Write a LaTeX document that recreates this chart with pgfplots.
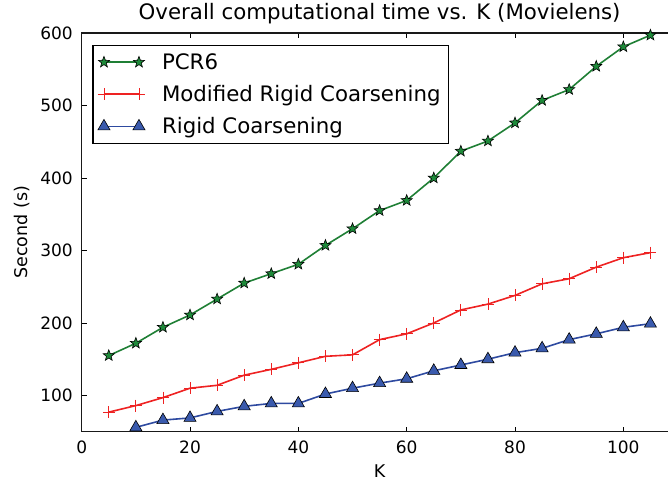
\documentclass[border=0pt]{standalone}
\usepackage{fontspec}
\setmainfont{DejaVu Sans}
\usepackage{pgfplots}
\pgfplotsset{compat=1.18}
\definecolor{pgreen}{HTML}{1E8A3A}
\definecolor{pgreenline}{HTML}{1F7F35}
\definecolor{pred}{HTML}{EE2222}
\definecolor{pblue}{HTML}{3A5AAD}
\definecolor{pblueline}{HTML}{2E4AA0}
\pgfdeclareplotmark{fstar}{%
  \pgfpathmoveto{\pgfpointpolar{90}{\pgfplotmarksize}}%
  \pgfpathlineto{\pgfpointpolar{126}{0.42\pgfplotmarksize}}%
  \pgfpathlineto{\pgfpointpolar{162}{\pgfplotmarksize}}%
  \pgfpathlineto{\pgfpointpolar{198}{0.42\pgfplotmarksize}}%
  \pgfpathlineto{\pgfpointpolar{234}{\pgfplotmarksize}}%
  \pgfpathlineto{\pgfpointpolar{270}{0.42\pgfplotmarksize}}%
  \pgfpathlineto{\pgfpointpolar{306}{\pgfplotmarksize}}%
  \pgfpathlineto{\pgfpointpolar{342}{0.42\pgfplotmarksize}}%
  \pgfpathlineto{\pgfpointpolar{18}{\pgfplotmarksize}}%
  \pgfpathlineto{\pgfpointpolar{54}{0.42\pgfplotmarksize}}%
  \pgfpathclose
  \pgfusepathqfillstroke}
\begin{document}
\begin{tikzpicture}
\begin{axis}[
  scale only axis,
  width=595.8pt, height=398.7pt,
  xmin=0, xmax=110, ymin=50, ymax=600,
  xtick={0,20,40,60,80,100,120},
  ytick={100,200,300,400,500,600},
  /pgf/number format/assume math mode=true,
  ticklabel style={font=\fontsize{17}{20}\selectfont, inner sep=0pt},
  yticklabel style={xshift=-8.7pt},
  xticklabel style={yshift=-8.5pt},
  major tick length=5pt,
  every tick/.style={black, line width=0.8pt},
  axis line style={black!90, line width=1.1pt},
  tick align=inside,
  title={Overall computational time vs. K (Movielens)},
  title style={at={(axis description cs:0.5,1)}, anchor=base, yshift=7pt, font=\fontsize{21.3}{25}\selectfont, inner sep=0pt},
  xlabel={K},
  xlabel style={at={(axis description cs:0.5,0)}, anchor=base, yshift=-46.3pt, font=\fontsize{17.5}{21}\selectfont, inner sep=0pt},
  ylabel={Second (s)},
  ylabel style={at={(axis description cs:-0.101,0.5)}, anchor=center, rotate=0, font=\fontsize{17.5}{21}\selectfont, inner sep=0pt},
  legend cell align=left,
  legend style={at={(axis description cs:0.0178,0.97)}, anchor=north west, draw=black, line width=1.2pt, font=\fontsize{21.3}{25}\selectfont, inner sep=5pt, row sep=8.5pt, column sep=14pt, nodes={inner sep=3pt}},
  legend image code/.code={\draw[#1] plot coordinates {(0pt,0pt) (35pt,0pt)};},
]
\coordinate (ll) at (rel axis cs:0,0);
\coordinate (ur) at (rel axis cs:1,1);
\addplot[pgreenline, line width=1.6pt, mark=fstar, mark size=5.8pt, mark options={solid, draw=black, fill=pgreen, line width=0.6pt}] coordinates {
(5,155) (10,172) (15,194) (20,211) (25,233) (30,255) (35,268) (40,281) (45,307) (50,330) (55,355) (60,369) (65,400) (70,437) (75,451) (80,476) (85,507) (90,522) (95,554) (100,581) (105,597)};
\addlegendentry{PCR6}
\addplot[pred, line width=1.6pt, mark=+, mark size=6pt, mark options={solid, line width=0.8pt}] coordinates {
(5,77) (10,86) (15,97) (20,110) (25,114) (30,128) (35,136) (40,145) (45,154) (50,156) (55,177) (60,185) (65,200) (70,218) (75,226) (80,238) (85,254) (90,261) (95,277) (100,290) (105,297)};
\addlegendentry{Modified Rigid Coarsening}
\addplot[pblueline, line width=1.6pt, mark=triangle*, mark size=7pt, mark options={solid, draw=black, fill=pblue, line width=0.6pt}] coordinates {
(10,56) (15,66) (20,69) (25,78) (30,85) (35,89) (40,89) (45,102) (50,110) (55,117) (60,123) (65,134) (70,142) (75,150) (80,159) (85,165) (90,177) (95,185) (100,194) (105,199)};
\addlegendentry{Rigid Coarsening}
\end{axis}
\pgfresetboundingbox
\path[use as bounding box] ([shift={(-81.7pt,-50.3pt)}]ll) rectangle ([shift={(-9.5pt,33pt)}]ur);
\end{tikzpicture}
\end{document}
